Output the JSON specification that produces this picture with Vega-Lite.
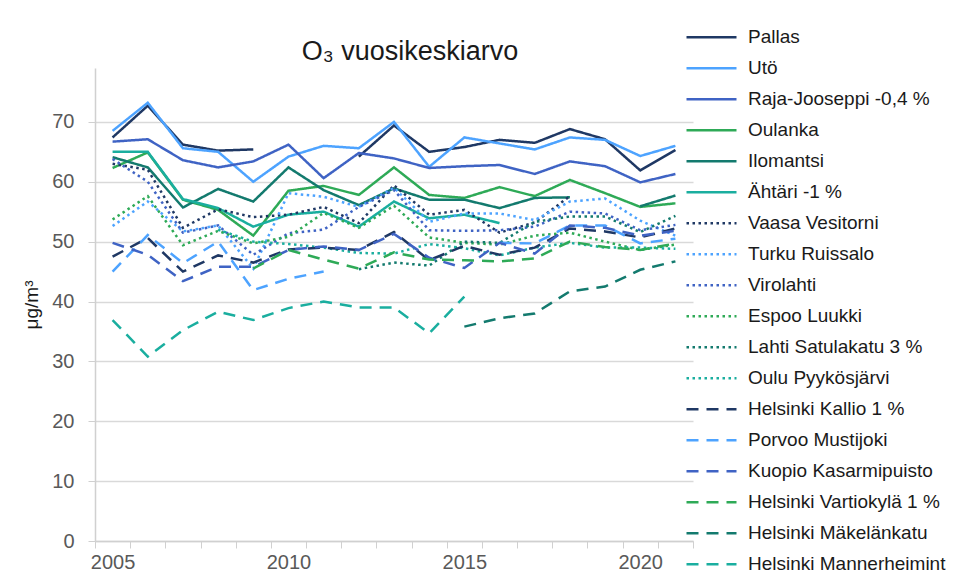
{
  "$schema": "https://vega.github.io/schema/vega-lite/v6.json",
  "autosize": "none",
  "width": 598,
  "height": 473,
  "padding": {"left": 95, "top": 68, "right": 269, "bottom": 42},
  "background": "white",
  "title": {"text": "O₃ vuosikeskiarvo", "fontSize": 27, "font": "Liberation Sans", "fontWeight": "normal", "color": "#1a1a1a", "anchor": "middle", "offset": 0, "dx": 16, "dy": 43},
  "config": {"view": {"stroke": null}, "font": "Liberation Sans"},
  "data": {"values": [
    {"station":"Pallas","year":2005,"value":67.4},{"station":"Pallas","year":2006,"value":72.7},{"station":"Pallas","year":2007,"value":66.2},{"station":"Pallas","year":2008,"value":65.2},{"station":"Pallas","year":2009,"value":65.4},{"station":"Pallas","year":2010,"value":null},{"station":"Pallas","year":2011,"value":null},{"station":"Pallas","year":2012,"value":64.2},{"station":"Pallas","year":2013,"value":69.4},{"station":"Pallas","year":2014,"value":65.0},{"station":"Pallas","year":2015,"value":65.8},{"station":"Pallas","year":2016,"value":67.0},{"station":"Pallas","year":2017,"value":66.5},{"station":"Pallas","year":2018,"value":68.8},{"station":"Pallas","year":2019,"value":67.1},{"station":"Pallas","year":2020,"value":61.9},{"station":"Pallas","year":2021,"value":65.3},
    {"station":"Utö","year":2005,"value":68.5},{"station":"Utö","year":2006,"value":73.2},{"station":"Utö","year":2007,"value":65.6},{"station":"Utö","year":2008,"value":65.0},{"station":"Utö","year":2009,"value":60.0},{"station":"Utö","year":2010,"value":64.2},{"station":"Utö","year":2011,"value":66.0},{"station":"Utö","year":2012,"value":65.6},{"station":"Utö","year":2013,"value":70.0},{"station":"Utö","year":2014,"value":62.5},{"station":"Utö","year":2015,"value":67.4},{"station":"Utö","year":2016,"value":66.4},{"station":"Utö","year":2017,"value":65.4},{"station":"Utö","year":2018,"value":67.4},{"station":"Utö","year":2019,"value":67.0},{"station":"Utö","year":2020,"value":64.3},{"station":"Utö","year":2021,"value":66.0},
    {"station":"Raja-Jooseppi -0,4 %","year":2005,"value":66.7},{"station":"Raja-Jooseppi -0,4 %","year":2006,"value":67.1},{"station":"Raja-Jooseppi -0,4 %","year":2007,"value":63.6},{"station":"Raja-Jooseppi -0,4 %","year":2008,"value":62.4},{"station":"Raja-Jooseppi -0,4 %","year":2009,"value":63.4},{"station":"Raja-Jooseppi -0,4 %","year":2010,"value":66.2},{"station":"Raja-Jooseppi -0,4 %","year":2011,"value":60.6},{"station":"Raja-Jooseppi -0,4 %","year":2012,"value":64.8},{"station":"Raja-Jooseppi -0,4 %","year":2013,"value":63.9},{"station":"Raja-Jooseppi -0,4 %","year":2014,"value":62.3},{"station":"Raja-Jooseppi -0,4 %","year":2015,"value":62.6},{"station":"Raja-Jooseppi -0,4 %","year":2016,"value":62.8},{"station":"Raja-Jooseppi -0,4 %","year":2017,"value":61.3},{"station":"Raja-Jooseppi -0,4 %","year":2018,"value":63.4},{"station":"Raja-Jooseppi -0,4 %","year":2019,"value":62.6},{"station":"Raja-Jooseppi -0,4 %","year":2020,"value":59.9},{"station":"Raja-Jooseppi -0,4 %","year":2021,"value":61.3},
    {"station":"Oulanka","year":2005,"value":62.3},{"station":"Oulanka","year":2006,"value":64.9},{"station":"Oulanka","year":2007,"value":57.0},{"station":"Oulanka","year":2008,"value":55.3},{"station":"Oulanka","year":2009,"value":51.0},{"station":"Oulanka","year":2010,"value":58.5},{"station":"Oulanka","year":2011,"value":59.3},{"station":"Oulanka","year":2012,"value":57.8},{"station":"Oulanka","year":2013,"value":62.4},{"station":"Oulanka","year":2014,"value":57.8},{"station":"Oulanka","year":2015,"value":57.3},{"station":"Oulanka","year":2016,"value":59.1},{"station":"Oulanka","year":2017,"value":57.6},{"station":"Oulanka","year":2018,"value":60.3},{"station":"Oulanka","year":2019,"value":58.1},{"station":"Oulanka","year":2020,"value":55.8},{"station":"Oulanka","year":2021,"value":56.4},
    {"station":"Ilomantsi","year":2005,"value":64.1},{"station":"Ilomantsi","year":2006,"value":62.4},{"station":"Ilomantsi","year":2007,"value":55.7},{"station":"Ilomantsi","year":2008,"value":58.8},{"station":"Ilomantsi","year":2009,"value":56.7},{"station":"Ilomantsi","year":2010,"value":62.4},{"station":"Ilomantsi","year":2011,"value":58.6},{"station":"Ilomantsi","year":2012,"value":56.1},{"station":"Ilomantsi","year":2013,"value":58.9},{"station":"Ilomantsi","year":2014,"value":57.0},{"station":"Ilomantsi","year":2015,"value":57.0},{"station":"Ilomantsi","year":2016,"value":55.6},{"station":"Ilomantsi","year":2017,"value":57.3},{"station":"Ilomantsi","year":2018,"value":57.4},{"station":"Ilomantsi","year":2019,"value":null},{"station":"Ilomantsi","year":2020,"value":55.9},{"station":"Ilomantsi","year":2021,"value":57.7},
    {"station":"Ähtäri -1 %","year":2005,"value":65.0},{"station":"Ähtäri -1 %","year":2006,"value":65.0},{"station":"Ähtäri -1 %","year":2007,"value":57.1},{"station":"Ähtäri -1 %","year":2008,"value":55.6},{"station":"Ähtäri -1 %","year":2009,"value":52.5},{"station":"Ähtäri -1 %","year":2010,"value":54.5},{"station":"Ähtäri -1 %","year":2011,"value":55.0},{"station":"Ähtäri -1 %","year":2012,"value":52.5},{"station":"Ähtäri -1 %","year":2013,"value":56.7},{"station":"Ähtäri -1 %","year":2014,"value":53.9},{"station":"Ähtäri -1 %","year":2015,"value":54.5},{"station":"Ähtäri -1 %","year":2016,"value":53.1},
    {"station":"Vaasa Vesitorni","year":2005,"value":63.0},{"station":"Vaasa Vesitorni","year":2006,"value":62.0},{"station":"Vaasa Vesitorni","year":2007,"value":52.3},{"station":"Vaasa Vesitorni","year":2008,"value":55.4},{"station":"Vaasa Vesitorni","year":2009,"value":54.1},{"station":"Vaasa Vesitorni","year":2010,"value":54.5},{"station":"Vaasa Vesitorni","year":2011,"value":55.8},{"station":"Vaasa Vesitorni","year":2012,"value":53.1},{"station":"Vaasa Vesitorni","year":2013,"value":59.4},{"station":"Vaasa Vesitorni","year":2014,"value":54.5},{"station":"Vaasa Vesitorni","year":2015,"value":55.3},{"station":"Vaasa Vesitorni","year":2016,"value":51.5},{"station":"Vaasa Vesitorni","year":2017,"value":53.2},{"station":"Vaasa Vesitorni","year":2018,"value":57.6},
    {"station":"Turku Ruissalo","year":2005,"value":52.6},{"station":"Turku Ruissalo","year":2006,"value":56.7},{"station":"Turku Ruissalo","year":2007,"value":51.7},{"station":"Turku Ruissalo","year":2008,"value":52.7},{"station":"Turku Ruissalo","year":2009,"value":45.5},{"station":"Turku Ruissalo","year":2010,"value":58.1},{"station":"Turku Ruissalo","year":2011,"value":57.5},{"station":"Turku Ruissalo","year":2012,"value":55.8},{"station":"Turku Ruissalo","year":2013,"value":59.0},{"station":"Turku Ruissalo","year":2014,"value":53.3},{"station":"Turku Ruissalo","year":2015,"value":54.7},{"station":"Turku Ruissalo","year":2016,"value":54.7},{"station":"Turku Ruissalo","year":2017,"value":53.6},{"station":"Turku Ruissalo","year":2018,"value":56.7},{"station":"Turku Ruissalo","year":2019,"value":57.2},{"station":"Turku Ruissalo","year":2020,"value":53.5},{"station":"Turku Ruissalo","year":2021,"value":51.0},
    {"station":"Virolahti","year":2005,"value":63.8},{"station":"Virolahti","year":2006,"value":60.0},{"station":"Virolahti","year":2007,"value":51.5},{"station":"Virolahti","year":2008,"value":52.7},{"station":"Virolahti","year":2009,"value":47.8},{"station":"Virolahti","year":2010,"value":51.4},{"station":"Virolahti","year":2011,"value":52.0},{"station":"Virolahti","year":2012,"value":55.8},{"station":"Virolahti","year":2013,"value":58.6},{"station":"Virolahti","year":2014,"value":51.9},{"station":"Virolahti","year":2015,"value":51.8},{"station":"Virolahti","year":2016,"value":51.9},{"station":"Virolahti","year":2017,"value":52.5},{"station":"Virolahti","year":2018,"value":55.0},{"station":"Virolahti","year":2019,"value":54.7},{"station":"Virolahti","year":2020,"value":51.9},{"station":"Virolahti","year":2021,"value":52.8},
    {"station":"Espoo Luukki","year":2005,"value":53.7},{"station":"Espoo Luukki","year":2006,"value":57.6},{"station":"Espoo Luukki","year":2007,"value":49.4},{"station":"Espoo Luukki","year":2008,"value":51.8},{"station":"Espoo Luukki","year":2009,"value":49.7},{"station":"Espoo Luukki","year":2010,"value":50.8},{"station":"Espoo Luukki","year":2011,"value":54.8},{"station":"Espoo Luukki","year":2012,"value":52.3},{"station":"Espoo Luukki","year":2013,"value":56.0},{"station":"Espoo Luukki","year":2014,"value":50.7},{"station":"Espoo Luukki","year":2015,"value":49.8},{"station":"Espoo Luukki","year":2016,"value":49.5},{"station":"Espoo Luukki","year":2017,"value":51.0},{"station":"Espoo Luukki","year":2018,"value":51.5},{"station":"Espoo Luukki","year":2019,"value":50.0},{"station":"Espoo Luukki","year":2020,"value":48.6},{"station":"Espoo Luukki","year":2021,"value":49.5},
    {"station":"Lahti Satulakatu 3 %","year":2012,"value":45.4},{"station":"Lahti Satulakatu 3 %","year":2013,"value":46.5},{"station":"Lahti Satulakatu 3 %","year":2014,"value":46.0},{"station":"Lahti Satulakatu 3 %","year":2015,"value":50.0},{"station":"Lahti Satulakatu 3 %","year":2016,"value":49.8},{"station":"Lahti Satulakatu 3 %","year":2017,"value":53.3},{"station":"Lahti Satulakatu 3 %","year":2018,"value":54.2},{"station":"Lahti Satulakatu 3 %","year":2019,"value":54.2},{"station":"Lahti Satulakatu 3 %","year":2020,"value":51.6},{"station":"Lahti Satulakatu 3 %","year":2021,"value":54.3},
    {"station":"Oulu Pyykösjärvi","year":2008,"value":52.0},{"station":"Oulu Pyykösjärvi","year":2009,"value":50.0},{"station":"Oulu Pyykösjärvi","year":2010,"value":49.6},{"station":"Oulu Pyykösjärvi","year":2011,"value":49.0},{"station":"Oulu Pyykösjärvi","year":2012,"value":48.1},{"station":"Oulu Pyykösjärvi","year":2013,"value":48.0},{"station":"Oulu Pyykösjärvi","year":2014,"value":49.6},{"station":"Oulu Pyykösjärvi","year":2015,"value":48.9},{"station":"Oulu Pyykösjärvi","year":2016,"value":47.7},{"station":"Oulu Pyykösjärvi","year":2017,"value":49.0},{"station":"Oulu Pyykösjärvi","year":2018,"value":49.8},{"station":"Oulu Pyykösjärvi","year":2019,"value":49.0},{"station":"Oulu Pyykösjärvi","year":2020,"value":49.0},{"station":"Oulu Pyykösjärvi","year":2021,"value":48.8},
    {"station":"Helsinki Kallio 1 %","year":2005,"value":47.5},{"station":"Helsinki Kallio 1 %","year":2006,"value":50.6},{"station":"Helsinki Kallio 1 %","year":2007,"value":45.0},{"station":"Helsinki Kallio 1 %","year":2008,"value":47.7},{"station":"Helsinki Kallio 1 %","year":2009,"value":46.5},{"station":"Helsinki Kallio 1 %","year":2010,"value":48.7},{"station":"Helsinki Kallio 1 %","year":2011,"value":49.0},{"station":"Helsinki Kallio 1 %","year":2012,"value":48.6},{"station":"Helsinki Kallio 1 %","year":2013,"value":51.6},{"station":"Helsinki Kallio 1 %","year":2014,"value":46.9},{"station":"Helsinki Kallio 1 %","year":2015,"value":49.3},{"station":"Helsinki Kallio 1 %","year":2016,"value":47.8},{"station":"Helsinki Kallio 1 %","year":2017,"value":49.0},{"station":"Helsinki Kallio 1 %","year":2018,"value":52.2},{"station":"Helsinki Kallio 1 %","year":2019,"value":51.7},{"station":"Helsinki Kallio 1 %","year":2020,"value":50.7},{"station":"Helsinki Kallio 1 %","year":2021,"value":52.2},
    {"station":"Porvoo Mustijoki","year":2005,"value":45.0},{"station":"Porvoo Mustijoki","year":2006,"value":51.1},{"station":"Porvoo Mustijoki","year":2007,"value":46.4},{"station":"Porvoo Mustijoki","year":2008,"value":50.0},{"station":"Porvoo Mustijoki","year":2009,"value":41.9},{"station":"Porvoo Mustijoki","year":2010,"value":43.8},{"station":"Porvoo Mustijoki","year":2011,"value":45.0},{"station":"Porvoo Mustijoki","year":2012,"value":null},{"station":"Porvoo Mustijoki","year":2013,"value":null},{"station":"Porvoo Mustijoki","year":2014,"value":null},{"station":"Porvoo Mustijoki","year":2015,"value":null},{"station":"Porvoo Mustijoki","year":2016,"value":49.8},{"station":"Porvoo Mustijoki","year":2017,"value":49.7},{"station":"Porvoo Mustijoki","year":2018,"value":52.7},{"station":"Porvoo Mustijoki","year":2019,"value":52.7},{"station":"Porvoo Mustijoki","year":2020,"value":49.7},{"station":"Porvoo Mustijoki","year":2021,"value":50.5},
    {"station":"Kuopio Kasarmipuisto","year":2005,"value":49.8},{"station":"Kuopio Kasarmipuisto","year":2006,"value":47.8},{"station":"Kuopio Kasarmipuisto","year":2007,"value":43.4},{"station":"Kuopio Kasarmipuisto","year":2008,"value":45.8},{"station":"Kuopio Kasarmipuisto","year":2009,"value":45.8},{"station":"Kuopio Kasarmipuisto","year":2010,"value":48.6},{"station":"Kuopio Kasarmipuisto","year":2011,"value":49.2},{"station":"Kuopio Kasarmipuisto","year":2012,"value":48.6},{"station":"Kuopio Kasarmipuisto","year":2013,"value":51.3},{"station":"Kuopio Kasarmipuisto","year":2014,"value":47.3},{"station":"Kuopio Kasarmipuisto","year":2015,"value":45.6},{"station":"Kuopio Kasarmipuisto","year":2016,"value":49.8},{"station":"Kuopio Kasarmipuisto","year":2017,"value":48.0},{"station":"Kuopio Kasarmipuisto","year":2018,"value":52.7},{"station":"Kuopio Kasarmipuisto","year":2019,"value":52.3},{"station":"Kuopio Kasarmipuisto","year":2020,"value":51.0},{"station":"Kuopio Kasarmipuisto","year":2021,"value":51.8},
    {"station":"Helsinki Vartiokylä 1 %","year":2009,"value":45.5},{"station":"Helsinki Vartiokylä 1 %","year":2010,"value":48.6},{"station":"Helsinki Vartiokylä 1 %","year":2011,"value":47.0},{"station":"Helsinki Vartiokylä 1 %","year":2012,"value":45.5},{"station":"Helsinki Vartiokylä 1 %","year":2013,"value":48.2},{"station":"Helsinki Vartiokylä 1 %","year":2014,"value":47.0},{"station":"Helsinki Vartiokylä 1 %","year":2015,"value":46.9},{"station":"Helsinki Vartiokylä 1 %","year":2016,"value":46.7},{"station":"Helsinki Vartiokylä 1 %","year":2017,"value":47.2},{"station":"Helsinki Vartiokylä 1 %","year":2018,"value":50.0},{"station":"Helsinki Vartiokylä 1 %","year":2019,"value":49.1},{"station":"Helsinki Vartiokylä 1 %","year":2020,"value":48.6},{"station":"Helsinki Vartiokylä 1 %","year":2021,"value":49.7},
    {"station":"Helsinki Mäkelänkatu","year":2015,"value":35.8},{"station":"Helsinki Mäkelänkatu","year":2016,"value":37.2},{"station":"Helsinki Mäkelänkatu","year":2017,"value":38.0},{"station":"Helsinki Mäkelänkatu","year":2018,"value":41.7},{"station":"Helsinki Mäkelänkatu","year":2019,"value":42.5},{"station":"Helsinki Mäkelänkatu","year":2020,"value":45.3},{"station":"Helsinki Mäkelänkatu","year":2021,"value":46.7},
    {"station":"Helsinki Mannerheimint","year":2005,"value":36.9},{"station":"Helsinki Mannerheimint","year":2006,"value":30.8},{"station":"Helsinki Mannerheimint","year":2007,"value":35.2},{"station":"Helsinki Mannerheimint","year":2008,"value":38.3},{"station":"Helsinki Mannerheimint","year":2009,"value":36.9},{"station":"Helsinki Mannerheimint","year":2010,"value":38.9},{"station":"Helsinki Mannerheimint","year":2011,"value":40.0},{"station":"Helsinki Mannerheimint","year":2012,"value":39.0},{"station":"Helsinki Mannerheimint","year":2013,"value":39.0},{"station":"Helsinki Mannerheimint","year":2014,"value":34.7},{"station":"Helsinki Mannerheimint","year":2015,"value":40.8}
  ]},
  "mark": {"type": "line", "strokeWidth": 2.5, "invalid": "break-paths-show-domains"},
  "encoding": {
    "x": {"field": "year", "type": "ordinal", "scale": {"type": "band", "paddingInner": 0, "paddingOuter": 0},
      "axis": {"title": null, "labelAngle": 0, "tickBand": "extent", "labelExpr": "datum.value % 5 == 0 ? datum.label : ''", "labelFontSize": 20, "labelColor": "#595959", "labelFont": "Liberation Sans", "labelPadding": 4, "tickColor": "#d0d0d0", "tickSize": 7, "domainColor": "#d0d0d0", "domainWidth": 1.5, "grid": false}},
    "y": {"field": "value", "type": "quantitative", "scale": {"domain": [0, 79], "nice": false},
      "axis": {"title": "μg/m³", "titleFontSize": 19, "titleFont": "Liberation Sans", "titleFontWeight": "normal", "titleColor": "#1a1a1a", "titlePadding": 10, "values": [0,10,20,30,40,50,60,70], "labelFontSize": 20, "labelColor": "#595959", "labelFont": "Liberation Sans", "labelPadding": 14, "tickColor": "#d0d0d0", "tickSize": 7, "domainColor": "#d0d0d0", "domainWidth": 1.5, "gridColor": "#d9d9d9", "gridWidth": 1.5}},
    "color": {"field": "station", "type": "nominal",
      "scale": {"domain": ["Pallas","Utö","Raja-Jooseppi -0,4 %","Oulanka","Ilomantsi","Ähtäri -1 %","Vaasa Vesitorni","Turku Ruissalo","Virolahti","Espoo Luukki","Lahti Satulakatu 3 %","Oulu Pyykösjärvi","Helsinki Kallio 1 %","Porvoo Mustijoki","Kuopio Kasarmipuisto","Helsinki Vartiokylä 1 %","Helsinki Mäkelänkatu","Helsinki Mannerheimint"],
        "range": ["#1F3864","#4DA3FF","#3F63C4","#2EAA57","#137A6E","#1AAE9F","#1F3864","#4DA3FF","#3F63C4","#2EAA57","#137A6E","#1AAE9F","#1F3864","#4DA3FF","#3F63C4","#2EAA57","#137A6E","#1AAE9F"]},
      "legend": {"title": null, "orient": "none", "legendX": 602.5, "legendY": -44.75, "symbolType": "M-2,0H2", "symbolSize": 625, "symbolStrokeWidth": 2.5, "labelFontSize": 19, "labelFont": "Liberation Sans", "labelColor": "#1a1a1a", "labelOffset": 22.5, "rowPadding": 7.0, "padding": 0, "labelLimit": 300}},
    "strokeDash": {"field": "station", "type": "nominal",
      "scale": {"domain": ["Pallas","Utö","Raja-Jooseppi -0,4 %","Oulanka","Ilomantsi","Ähtäri -1 %","Vaasa Vesitorni","Turku Ruissalo","Virolahti","Espoo Luukki","Lahti Satulakatu 3 %","Oulu Pyykösjärvi","Helsinki Kallio 1 %","Porvoo Mustijoki","Kuopio Kasarmipuisto","Helsinki Vartiokylä 1 %","Helsinki Mäkelänkatu","Helsinki Mannerheimint"],
        "range": [[1,0],[1,0],[1,0],[1,0],[1,0],[1,0],[2.5,3.5],[2.5,3.5],[2.5,3.5],[2.5,3.5],[2.5,3.5],[2.5,3.5],[12,8],[12,8],[12,8],[12,8],[12,8],[12,8]]}}
  }
}
